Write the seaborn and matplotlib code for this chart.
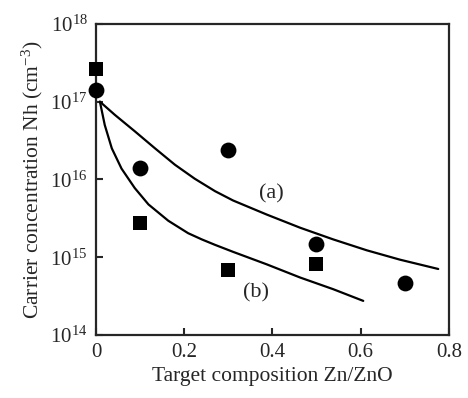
import numpy as np
import pandas as pd
import matplotlib
matplotlib.use("Agg")
import matplotlib.pyplot as plt
import seaborn as sns

# Data
circle_x = [0.0, 0.1, 0.3, 0.5, 0.7]
circle_y = [1.4e17, 1.4e16, 2.4e16, 1.5e15, 4.7e14]
square_x = [0.0, 0.1, 0.3, 0.5]
square_y = [2.6e17, 2.8e15, 6.8e14, 8.3e14]

curve_a_x = [0.009, 0.043, 0.088, 0.134, 0.179, 0.224, 0.270, 0.311, 0.387,
             0.463, 0.538, 0.614, 0.689, 0.776]
curve_a_log = [17.0, 16.83, 16.62, 16.40, 16.19, 16.01, 15.85, 15.73, 15.55,
               15.38, 15.23, 15.09, 14.97, 14.85]
curve_b_x = [0.009, 0.020, 0.036, 0.058, 0.088, 0.119, 0.164, 0.209, 0.240,
             0.270, 0.311, 0.387, 0.463, 0.538, 0.606]
curve_b_log = [17.0, 16.70, 16.40, 16.14, 15.89, 15.68, 15.47, 15.31, 15.23,
               15.16, 15.07, 14.91, 14.74, 14.59, 14.44]

xticks = [0, 0.2, 0.4, 0.6, 0.8]
xtick_labels = ["0", "0.2", "0.4", "0.6", "0.8"]
yticks = [1e14, 1e15, 1e16, 1e17, 1e18]
ytick_labels = [r"10$^{14}$", r"10$^{15}$", r"10$^{16}$", r"10$^{17}$", r"10$^{18}$"]

sns.set_style("ticks")
plt.rcParams["font.family"] = ["Liberation Serif", "DejaVu Serif"]
plt.rcParams["mathtext.fontset"] = "custom"
plt.rcParams["mathtext.rm"] = "Liberation Serif"
plt.rcParams["mathtext.it"] = "Liberation Serif:italic"

fig = plt.figure(figsize=(4.68, 3.98), dpi=100)
ax = fig.add_axes([0.205, 0.158, 0.754, 0.782])

ca = pd.DataFrame({"x": curve_a_x, "y": np.power(10.0, curve_a_log)})
cb = pd.DataFrame({"x": curve_b_x, "y": np.power(10.0, curve_b_log)})
sns.lineplot(data=ca, x="x", y="y", ax=ax, color="black", linewidth=1.6, sort=False)
sns.lineplot(data=cb, x="x", y="y", ax=ax, color="black", linewidth=1.6, sort=False)

cdf = pd.DataFrame({"x": circle_x, "y": circle_y})
sdf = pd.DataFrame({"x": square_x, "y": square_y})
sns.scatterplot(data=cdf, x="x", y="y", ax=ax, marker="o", s=130, color="black",
                edgecolor="black", linewidth=0, clip_on=False, zorder=5)
sns.scatterplot(data=sdf, x="x", y="y", ax=ax, marker="s", s=105, color="black",
                edgecolor="black", linewidth=0, clip_on=False, zorder=5)

ax.set_yscale("log")
ax.set_xlim(0, 0.8)
ax.set_ylim(1e14, 1e18)
ax.set_xticks(xticks)
ax.set_xticklabels(xtick_labels)
ax.set_yticks(yticks)
ax.set_yticklabels(ytick_labels)
ax.minorticks_off()
ax.tick_params(direction="in", length=5, width=1.5, labelsize=15, pad=6)

for sp in ax.spines.values():
    sp.set_linewidth(1.6)
    sp.set_visible(True)

ax.set_xlabel("Target composition Zn/ZnO", fontsize=15.5, labelpad=3)
ax.set_ylabel(r"Carrier concentration Nh (cm$^{-3}$)", fontsize=15.5, labelpad=4)

ax.text(0.398, 6.6e15, "(a)", fontsize=16, ha="center", va="center")
ax.text(0.364, 3.5e14, "(b)", fontsize=16, ha="center", va="center")

fig.savefig("out.png", dpi=100)
